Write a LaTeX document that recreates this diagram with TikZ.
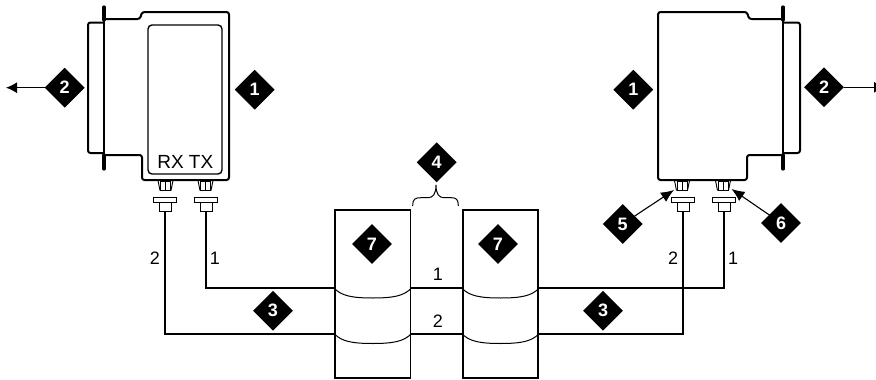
\documentclass[tikz,border=0pt]{standalone}
\usepackage{fontspec}
\setmainfont{Liberation Sans}
\usetikzlibrary{shapes.geometric,arrows.meta}
\tikzset{
  tag/.style={diamond,fill=black,text=white,inner sep=0pt,minimum width=40pt,minimum height=40pt,font=\fontsize{18}{18}\selectfont\bfseries},
  outline/.style={line width=2pt,line join=round,rounded corners=2.5pt},
  flangebar/.style={line width=3.2pt,line cap=round},
  flangeline/.style={line width=1.3pt},
  wire/.style={line width=2pt},
  drum/.style={draw,line width=1.8pt,minimum width=75.5pt,minimum height=168pt,inner sep=0pt},
  seam/.style={line width=1pt},
  portbox/.style={draw,line width=1pt,minimum width=10pt,minimum height=9pt,inner sep=0pt},
  plugcap/.style={draw,fill=white,line width=1pt,minimum width=23pt,minimum height=4.5pt,inner sep=0pt},
  plugstem/.style={draw,line width=1pt,minimum width=12pt,minimum height=9.5pt,inner sep=0pt},
  num/.style={font=\fontsize{18}{18}\selectfont,inner sep=0pt},
  lead/.style={line width=1.1pt,-{Latex[length=13pt,width=11pt]}},
  bracket/.style={line width=1pt}
}
\begin{document}
\begin{tikzpicture}[x=1pt,y=-1pt]
\path[use as bounding box] (0,0) rectangle (876,380);
\clip (0,0) rectangle (876,380);
% left device
\draw[outline] (104,19) -- (140,19) -- (142,12) -- (229,12) -- (229,180) -- (142,180) -- (142,155) -- (104,155);
\draw[outline] (104,22.5) -- (88,22.5) -- (88,153) -- (104,153);
\draw[flangebar] (104,7) -- (104,20);
\draw[flangebar] (104,155) -- (104,169);
\draw[flangeline] (104,20) -- (104,155);
\draw[line width=1.4pt,rounded corners=4pt] (148,25) rectangle (222,174);
\node[font=\fontsize{19}{19}\selectfont,inner sep=0pt] (rxtx) at (185.3,161.5) {RX TX};
% right device
\draw[outline] (783,19) -- (749,19) -- (747,12) -- (658,12) -- (658,180) -- (747,180) -- (747,155) -- (783,155);
\draw[outline] (783,22.5) -- (800,22.5) -- (800,153) -- (783,153);
\draw[flangebar] (783,7) -- (783,20);
\draw[flangebar] (783,155) -- (783,169);
\draw[flangeline] (783,20) -- (783,155);
% ports
\node[portbox] (lp2) at (165.5,185.5) {};
\node[portbox] (lp1) at (205.5,185.5) {};
\node[portbox] (rp2) at (682,185.5) {};
\node[portbox] (rp1) at (723,185.5) {};
\foreach \p in {lp2,lp1,rp2,rp1}{
  \draw[line width=1pt] (\p.north) -- (\p.south);
  \draw[line width=0.9pt] (\p.north west) ++(-2,0) -- (\p.south west);
  \draw[line width=0.9pt] (\p.north east) ++(2,0) -- (\p.south east);
}
% plugs
\node[plugcap] (lc2) at (165,200) {};
\node[plugcap] (lc1) at (206,200) {};
\node[plugcap] (rc2) at (683,200) {};
\node[plugcap] (rc1) at (724,200) {};
\node[plugstem] (ls2) at (165,207.2) {};
\node[plugstem] (ls1) at (206.3,207.2) {};
\node[plugstem] (rs2) at (683,207.2) {};
\node[plugstem] (rs1) at (724,207.2) {};
% drums
\node[drum] (dl) at (372.75,294) {};
\node[drum] (dr) at (500.5,294) {};
\foreach \d in {dl,dr}{
  \draw[seam] (\d.west |- 0,288) .. controls +(7,8) and +(-20,0) .. (\d.center |- 0,298) .. controls +(20,0) and +(-7,8) .. (\d.east |- 0,288);
  \draw[seam] (\d.west |- 0,333.5) .. controls +(7,8) and +(-20,0) .. (\d.center |- 0,343.5) .. controls +(20,0) and +(-7,8) .. (\d.east |- 0,333.5);
}
% wires
\draw[wire] (ls1.south) |- (dl.west |- 0,288);
\draw[wire] (ls2.south) |- (dl.west |- 0,333.5);
\draw[wire] (rs1.south) |- (dr.east |- 0,288);
\draw[wire] (rs2.south) |- (dr.east |- 0,333.5);
\draw[wire] (dl.east |- 0,288) -- (dr.west |- 0,288);
\draw[wire] (dl.east |- 0,333.5) -- (dr.west |- 0,333.5);
% wire numbers
\node[num] (n1a) at (215,258) {1};
\node[num] (n2a) at (155,258) {2};
\node[num] (n1b) at (438,274) {1};
\node[num] (n2b) at (438,321) {2};
\node[num] (n2c) at (673,258) {2};
\node[num] (n1c) at (733,258) {1};
% tags
\node[tag] (t2l) at (64.7,87.7) {2};
\node[tag] (t1l) at (254.7,89.7) {1};
\node[tag] (t1r) at (633.3,89.7) {1};
\node[tag] (t2r) at (824,87.3) {2};
\node[tag] (t3l) at (273,310.7) {3};
\node[tag] (t3r) at (603,310.7) {3};
\node[tag] (t4) at (436.7,162.3) {4};
\node[tag] (t7l) at (372,244) {7};
\node[tag] (t7r) at (498,244) {7};
\coordinate (tip5) at (674,190);
\coordinate (tip6) at (731.5,189);
\coordinate (endL) at (6,87.7);
\coordinate (endR) at (885,87.3);
\coordinate (from5) at (622.7,224);
\coordinate (from6) at (781,223);
% leaders
\draw[line width=1.1pt,-{Latex[length=11pt,width=11pt]}] (t2l.west) -- (endL);
\draw[line width=1.1pt,-{Latex[length=11pt,width=11pt]}] (t2r.east) -- (endR);
\draw[lead] (from5) -- (tip5);
\draw[lead] (from6) -- (tip6);
\node[tag] (t5) at (from5) {5};
\node[tag] (t6) at (from6) {6};
% brace
\draw[bracket] (412.7,206) .. controls (412.7,199) and (415,197.7) .. (421,197.7) -- (428,197.7) .. controls (433,197.7) and (436,194) .. (436,185) .. controls (436,194) and (439,197.7) .. (444,197.7) -- (451,197.7) .. controls (456,197.7) and (458.3,199) .. (458.3,206);
\end{tikzpicture}
\end{document}
